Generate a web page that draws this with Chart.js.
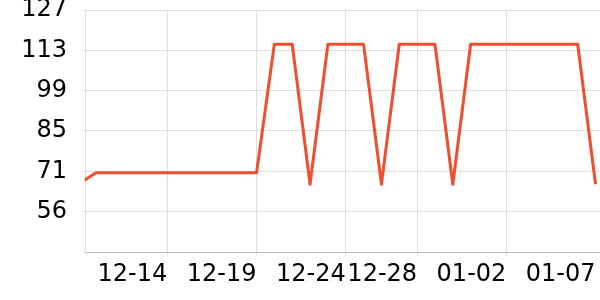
<!DOCTYPE html>
<html>
<head>
<meta charset="utf-8">
<script src="https://cdn.jsdelivr.net/npm/chart.js@4"></script>
<style>
  html, body { margin: 0; padding: 0; background: #fff; }
  #wrap { width: 600px; height: 300px; }
</style>
</head>
<body>
<div id="wrap"><canvas id="chart"></canvas></div>
<script>
// Días (12-09 .. 01-07) y valores
const dates = [
  "12-09", "12-10", "12-11", "12-12", "12-13", "12-14", "12-15", "12-16", "12-17", "12-18",
  "12-19", "12-20", "12-21", "12-22", "12-23", "12-24", "12-25", "12-26", "12-27", "12-28",
  "12-29", "12-30", "12-31", "01-01", "01-02", "01-03", "01-04", "01-05", "01-06", "01-07"
];
const values = [
  66, 70, 70, 70, 70, 70, 70, 70, 70, 70,
  70, 115, 115, 66, 115, 115, 115, 66, 115, 115,
  115, 66, 115, 115, 115, 115, 115, 115, 115, 66
];

// Etiquetas del eje X y marcas del eje Y
const tickDates = ["12-14", "12-19", "12-24", "12-28", "01-02", "01-07"];
const yTicks    = [42.3, 56.4, 70.5, 84.7, 98.8, 112.9, 127];

const FONT = { family: "'DejaVu Sans', sans-serif", size: 24 };
const GRID = "#dddddd";

const lastIdx = dates.indexOf(tickDates[tickDates.length - 1]);

new Chart(document.getElementById("chart"), {
  type: "line",
  data: {
    datasets: [{
      data: values.map((v, i) => ({ x: i, y: v })),
      borderColor: "#f04e2f",
      borderWidth: 3,
      borderJoinStyle: "round",
      pointRadius: 0,
      tension: 0,
      fill: false
    }]
  },
  options: {
    responsive: true,
    maintainAspectRatio: false,
    animation: false,
    layout: { padding: { top: 10, left: 0, right: 0, bottom: 0 } },
    plugins: {
      legend: { display: false },
      tooltip: { enabled: false }
    },
    scales: {
      x: {
        type: "linear",
        min: 0.387,
        max: 29.25,
        afterBuildTicks: (s) => { s.ticks = tickDates.map(d => ({ value: dates.indexOf(d) })); },
        afterFit: (s) => { s.height = 48; s.paddingLeft = 0; s.paddingRight = 0; },
        ticks: {
          callback: (v) => dates[v],
          align: "end",
          autoSkip: false,
          maxRotation: 0,
          padding: 5,
          color: "#000",
          font: FONT
        },
        grid: {
          color: (ctx) => (ctx.tick && ctx.tick.value === lastIdx) ? "rgba(0,0,0,0)" : GRID,
          tickLength: 3
        },
        border: { color: "#bbbbbb" }
      },
      y: {
        min: 42.3,
        max: 127,
        afterBuildTicks: (s) => { s.ticks = yTicks.map(v => ({ value: v })); },
        afterFit: (s) => { s.width = 85; s.paddingTop = 0; s.paddingBottom = 0; },
        ticks: {
          callback: (v, i) => i === 0 ? "" : Math.round(v),
          padding: 16,
          color: "#000",
          font: FONT
        },
        grid: { color: GRID, tickLength: 2 },
        border: { color: GRID }
      }
    }
  }
});
</script>
</body>
</html>
